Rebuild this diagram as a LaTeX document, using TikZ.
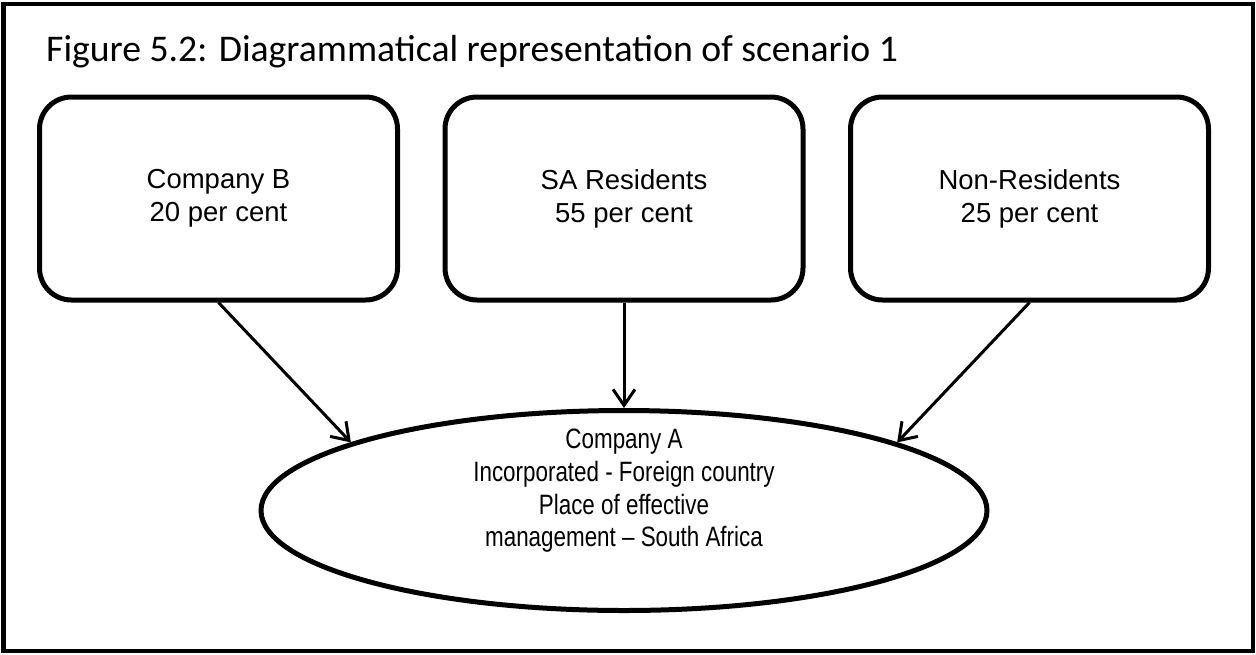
\documentclass[tikz,border=0pt]{standalone}
\usepackage{fontspec}
\setmainfont{Liberation Sans}
\newfontfamily\titlefont{Carlito}
\usetikzlibrary{shapes.geometric,arrows.meta}
\begin{document}
\begin{tikzpicture}[x=1pt,y=-1pt,
  frame/.style={draw=black,line width=4.5pt},
  holder/.style={draw=black,line width=5pt,rounded corners=32pt,
    minimum width=358pt,minimum height=203pt,inner sep=0pt,align=center,
    font=\fontsize{27.5}{33}\selectfont},
  entity/.style={draw=black,line width=5pt,ellipse,
    minimum width=726pt,minimum height=200pt,inner sep=0pt},
  entitytext/.style={align=center,inner sep=0pt,transform shape,xscale=0.8,
    font=\fontsize{28}{32.7}\selectfont},
  share/.style={draw=black,line width=3pt,
    -{Straight Barb[length=16pt,width=22pt,line width=3pt]}}]
\useasboundingbox (0,0) rectangle (1256,654);
% outer frame
\draw[frame] (3.5,4) rectangle (1253,651);
% title
\node[anchor=base west,inner sep=0pt,font=\titlefont\fontsize{37.7}{44}\selectfont]
  (title) at (46,61) {Figure 5.2: Diagrammatical representation of scenario 1};
% shareholders
\node[holder] (b1) at (218.5,198.5) {Company B\\20 per cent};
\node[holder] (b2) at (624,198.5) {SA Residents\\55 per cent};
\node[holder] (b3) at (1029.5,198.5) {Non-Residents\\25 per cent};
% the company
\node[entity] (compA) at (624,510.5) {};
\node[entitytext] (compAtext) at (624,491)
  {Company A\\Incorporated - Foreign country\\Place of effective\\management -- South Africa};
% shareholdings
\draw[share] (b1.south) -- (compA.166);
\draw[share] (b2.south) -- (compA.north);
\draw[share] (b3.south) -- (compA.14);
\end{tikzpicture}
\end{document}
